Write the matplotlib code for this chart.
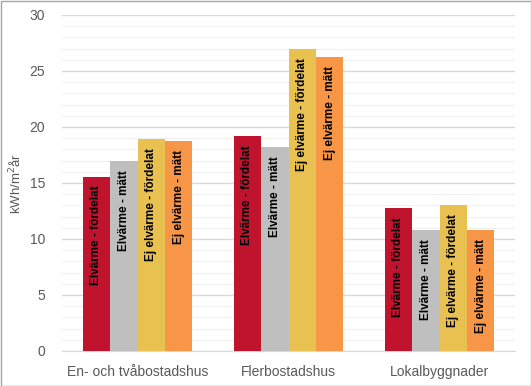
import numpy as np
import matplotlib.pyplot as plt
from matplotlib.ticker import MultipleLocator

plt.rcParams['font.family'] = ['Liberation Sans', 'DejaVu Sans']

categories = ['En- och tvåbostadshus', 'Flerbostadshus', 'Lokalbyggnader']
series = ['Elvärme - fördelat', 'Elvärme - mätt', 'Ej elvärme - fördelat', 'Ej elvärme - mätt']
values = [
    [15.55, 19.2, 12.75],
    [16.95, 18.2, 10.8],
    [18.9, 26.95, 13.05],
    [18.75, 26.25, 10.8],
]
colors = ['#c0142e', '#bfbfbf', '#e8c151', '#f79646']

fig = plt.figure(figsize=(5.31, 3.86), dpi=100)
ax = fig.add_axes([62/531, 35/386, 453/531, 336/386])

x = np.arange(len(categories))
w = 0.182
for i, (name, vals, c) in enumerate(zip(series, values, colors)):
    pos = x + (i - 1.5) * w
    ax.bar(pos, vals, width=w, color=c, zorder=3)
    for p, v in zip(pos, vals):
        ax.text(p, v - 0.8, name, rotation=90, ha='center', va='top',
                fontsize=8.5, fontweight='bold', color='black', zorder=4)

ax.set_xlim(-0.5, 2.5)
ax.set_ylim(0, 30)
ax.yaxis.set_major_locator(MultipleLocator(5))
ax.yaxis.set_minor_locator(MultipleLocator(1))
ax.grid(which='major', axis='y', color='#d9d9d9', linewidth=1, zorder=0)
ax.grid(which='minor', axis='y', color='#f0f0f0', linewidth=0.8, zorder=0)
for s in ['top', 'right', 'left']:
    ax.spines[s].set_visible(False)
ax.spines['bottom'].set_color('#d9d9d9')
ax.tick_params(which='both', length=0)
ax.tick_params(axis='y', labelsize=10, labelcolor='#595959', pad=12)
ax.tick_params(axis='x', labelsize=10, labelcolor='#595959', pad=10)
ax.set_xticks(x)
ax.set_xticklabels(categories)
ax.set_ylabel('kWh/m$^2$år', fontsize=9.5, color='#595959', labelpad=4)

fig.patches.append(plt.Rectangle((0.5/531, 0.5/386), 530/531, 385/386, transform=fig.transFigure,
                                 fill=False, edgecolor='#a6a6a6', linewidth=1))
fig.savefig('out.png', dpi=100)
